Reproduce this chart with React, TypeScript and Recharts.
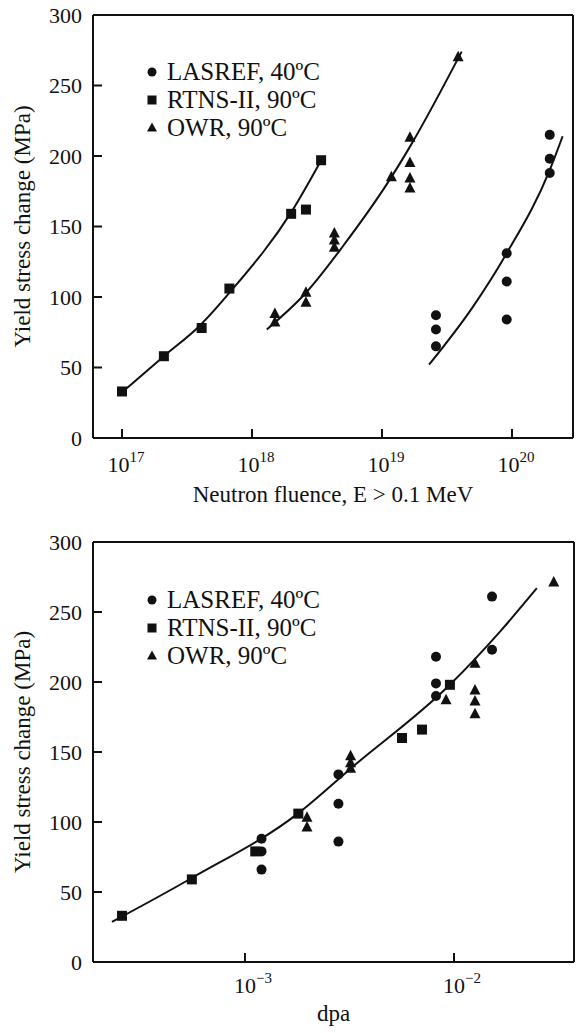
import { ComposedChart, Scatter, Line, XAxis, YAxis, Legend } from 'recharts';

const SERIF = '"Liberation Serif", "Times New Roman", serif';
const INK = '#111';

// shared y axis
const stressTicks = [0, 50, 100, 150, 200, 250, 300];

// top panel: neutron fluence, E > 0.1 MeV
const fluenceTicks = [1e17, 1e18, 1e19, 1e20];
const fluenceDomain = [10 ** 16.777, 10 ** 20.469];

const lasrefFluence = [2.6e19, 2.6e19, 2.6e19, 9.1e19, 9.1e19, 9.1e19, 1.95e20, 1.95e20, 1.95e20];
const lasrefFluenceStress = [87, 77, 65, 131, 111, 84, 215, 198, 188];

const rtnsFluence = [1e17, 2.1e17, 4.1e17, 6.7e17, 2e18, 2.6e18, 3.4e18];
const rtnsFluenceStress = [33, 58, 78, 106, 159, 162, 197];

const owrFluence = [1.5e18, 1.5e18, 2.6e18, 2.6e18, 4.3e18, 4.3e18, 4.3e18, 1.18e19, 1.64e19, 1.64e19, 1.64e19, 1.64e19, 3.85e19];
const owrFluenceStress = [88, 82, 103, 96, 145, 140, 135, 185, 213, 195, 184, 177, 270];

// fitted curves
const rtnsFitFluence = [1.05e17, 2.1e17, 4e17, 7e17, 2e18, 3.5e18];
const rtnsFitStress = [34, 58, 80, 105, 160, 199];
const owrFitFluence = [1.3e18, 2.6e18, 5e18, 1.18e19, 1.65e19, 4.1e19];
const owrFitStress = [77, 103, 136, 185, 207, 274];
const lasrefFitFluence = [2.3e19, 5e19, 9.1e19, 1.95e20, 2.45e20];
const lasrefFitStress = [52, 93, 131, 190, 214];

// bottom panel: dpa
const dpaTicks = [1e-3, 1e-2];
const dpaDomain = [10 ** -3.727, 10 ** -1.426];

const lasrefDpa = [1.2e-3, 1.2e-3, 1.2e-3, 2.8e-3, 2.8e-3, 2.8e-3, 8.2e-3, 8.2e-3, 8.2e-3, 1.52e-2, 1.52e-2];
const lasrefDpaStress = [88, 79, 66, 134, 113, 86, 218, 199, 190, 261, 223];

const rtnsDpa = [2.58e-4, 5.57e-4, 1.12e-3, 1.8e-3, 5.64e-3, 7.03e-3, 9.56e-3];
const rtnsDpaStress = [33, 59, 79, 106, 160, 166, 198];

const owrDpa = [1.98e-3, 1.98e-3, 3.2e-3, 3.2e-3, 3.2e-3, 9.16e-3, 1.26e-2, 1.26e-2, 1.26e-2, 1.26e-2, 3.0e-2];
const owrDpaStress = [103, 96, 147, 142, 138, 187, 213, 194, 186, 177, 271];

const dpaFitDpa = [2.31e-4, 5.57e-4, 1.79e-3, 3.25e-3, 9.55e-3, 1.66e-2, 2.49e-2];
const dpaFitStress = [28.6, 60, 106, 139, 198, 236, 267];

const legendNames = ['LASREF, 40ºC', 'RTNS-II, 90ºC', 'OWR, 90ºC'];

const zip = (xs: number[], ys: number[]) => xs.map((x, i) => ({ x, y: ys[i] }));

const DotShape = (p: any) => <circle cx={p.cx} cy={p.cy} r={5} fill={INK} />;
const SquareShape = (p: any) => <rect x={p.cx - 5} y={p.cy - 5} width={10} height={10} fill={INK} />;
const TriShape = (p: any) => (
  <path d={`M${p.cx},${p.cy - 6.5}L${p.cx + 5.5},${p.cy + 4}L${p.cx - 5.5},${p.cy + 4}Z`} fill={INK} />
);

function LegendMark({ kind }: { kind: number }) {
  return (
    <svg width={14} height={14} style={{ marginRight: 8 }}>
      {kind === 0 && <circle cx={7} cy={7} r={4.5} fill={INK} />}
      {kind === 1 && <rect x={2.5} y={2.5} width={9} height={9} fill={INK} />}
      {kind === 2 && <path d="M7,1.5L12,10.5L2,10.5Z" fill={INK} />}
    </svg>
  );
}

function LegendBox() {
  return (
    <div style={{ fontFamily: SERIF, fontSize: 25, color: INK }}>
      {legendNames.map((n, i) => (
        <div key={n} style={{ display: 'flex', alignItems: 'center', height: 28 }}>
          <LegendMark kind={i} />
          <span>{n}</span>
        </div>
      ))}
    </div>
  );
}

function PowTick(props: any) {
  const { x, y, payload, dx } = props;
  const e = Math.round(Math.log10(payload.value));
  const sup = e < 0 ? '\u2212' + -e : String(e);
  return (
    <text x={x + dx} y={y} textAnchor="middle" fontFamily={SERIF} fontSize={22} fill={INK}>
      10
      <tspan dy={-10} fontSize={15}>
        {sup}
      </tspan>
    </text>
  );
}

function YTitle(props: any) {
  const vb = props.viewBox;
  const cy = vb.y + vb.height / 2;
  return (
    <text
      x={22}
      y={cy}
      transform={`rotate(-90 22 ${cy})`}
      textAnchor="middle"
      dominantBaseline="central"
      fontFamily={SERIF}
      fontSize={23}
      fill={INK}
    >
      Yield stress change (MPa)
    </text>
  );
}

function XTitle(props: any) {
  const vb = props.viewBox;
  return (
    <text
      x={vb.x + vb.width / 2}
      y={vb.y + vb.height - props.gap}
      textAnchor="middle"
      fontFamily={SERIF}
      fontSize={23}
      fill={INK}
    >
      {props.text}
    </text>
  );
}

const axisLine = { stroke: INK, strokeWidth: 2 };

interface PanelProps {
  height: number;
  margin: { top: number; right: number; left: number; bottom: number };
  xHeight: number;
  domain: number[];
  ticks: number[];
  tickDx: number;
  tickMargin: number;
  title: string;
  titleGap: number;
  legendTop: number;
  circles: { x: number; y: number }[];
  squares: { x: number; y: number }[];
  triangles: { x: number; y: number }[];
  fits: { x: number; y: number }[][];
}

function Panel(p: PanelProps) {
  return (
    <ComposedChart width={576} height={p.height} margin={p.margin}>
      <XAxis
        dataKey="x"
        type="number"
        scale="log"
        domain={p.domain}
        allowDataOverflow
        ticks={p.ticks}
        interval={0}
        height={p.xHeight}
        stroke={INK}
        axisLine={axisLine}
        tickLine={axisLine}
        tickSize={-9}
        tickMargin={p.tickMargin}
        tick={(t: any) => <PowTick {...t} dx={p.tickDx} />}
        label={<XTitle text={p.title} gap={p.titleGap} />}
      />
      <XAxis
        xAxisId="top"
        orientation="top"
        dataKey="x"
        type="number"
        scale="log"
        domain={p.domain}
        allowDataOverflow
        ticks={p.ticks}
        interval={0}
        height={1}
        stroke={INK}
        axisLine={axisLine}
        tickLine={axisLine}
        tickSize={-9}
        tick={false}
      />
      <YAxis
        dataKey="y"
        type="number"
        domain={[0, 300]}
        allowDataOverflow
        ticks={stressTicks}
        interval={0}
        width={93}
        stroke={INK}
        axisLine={axisLine}
        tickLine={axisLine}
        tickSize={-9}
        tickMargin={20}
        tick={{ fontFamily: SERIF, fontSize: 22, fill: INK }}
        label={<YTitle />}
      />
      <YAxis
        yAxisId="right"
        orientation="right"
        type="number"
        domain={[0, 300]}
        allowDataOverflow
        ticks={stressTicks}
        interval={0}
        width={1}
        stroke={INK}
        axisLine={axisLine}
        tickLine={axisLine}
        tickSize={-9}
        tick={false}
      />
      <Legend
        layout="vertical"
        align="center"
        verticalAlign="middle"
        content={() => <LegendBox />}
        wrapperStyle={{ left: 145, top: p.legendTop, width: 'auto', height: 'auto' }}
      />
      {p.fits.map((f, i) => (
        <Line
          key={i}
          data={f}
          dataKey="y"
          type="monotone"
          stroke={INK}
          strokeWidth={2}
          dot={false}
          activeDot={false}
          legendType="none"
          isAnimationActive={false}
        />
      ))}
      <Scatter data={p.circles} shape={DotShape} isAnimationActive={false} />
      <Scatter data={p.squares} shape={SquareShape} isAnimationActive={false} />
      <Scatter data={p.triangles} shape={TriShape} isAnimationActive={false} />
    </ComposedChart>
  );
}

export default function App() {
  return (
    <div style={{ position: 'absolute', left: 0, top: 0, width: 576, background: '#fff' }}>
      <Panel
        height={510}
        margin={{ top: 14, right: 2, left: 0, bottom: 0 }}
        xHeight={72}
        domain={fluenceDomain}
        ticks={fluenceTicks}
        tickDx={4}
        tickMargin={43}
        title="Neutron fluence, E > 0.1 MeV"
        titleGap={8}
        legendTop={58}
        circles={zip(lasrefFluence, lasrefFluenceStress)}
        squares={zip(rtnsFluence, rtnsFluenceStress)}
        triangles={zip(owrFluence, owrFluenceStress)}
        fits={[
          zip(rtnsFitFluence, rtnsFitStress),
          zip(owrFitFluence, owrFitStress),
          zip(lasrefFitFluence, lasrefFitStress),
        ]}
      />
      <Panel
        height={523}
        margin={{ top: 31, right: 1, left: 0, bottom: 0 }}
        xHeight={71}
        domain={dpaDomain}
        ticks={dpaTicks}
        tickDx={8}
        tickMargin={40}
        title="dpa"
        titleGap={12}
        legendTop={76}
        circles={zip(lasrefDpa, lasrefDpaStress)}
        squares={zip(rtnsDpa, rtnsDpaStress)}
        triangles={zip(owrDpa, owrDpaStress)}
        fits={[zip(dpaFitDpa, dpaFitStress)]}
      />
    </div>
  );
}
